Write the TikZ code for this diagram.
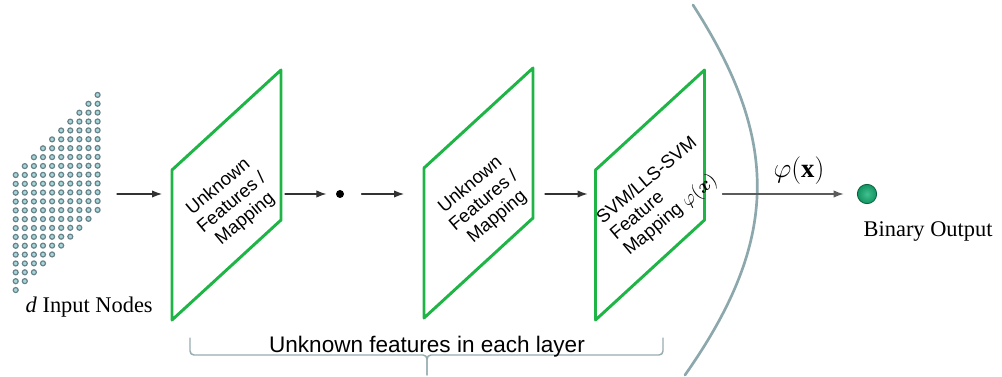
\documentclass[tikz,border=0pt]{standalone}
\usepackage{fontspec}
\setmainfont{Liberation Serif}
\setsansfont{Liberation Sans}
\usepackage{amsmath}
\usetikzlibrary{arrows.meta}
\definecolor{panelgreen}{RGB}{30,180,70}
\definecolor{curvegray}{RGB}{140,168,172}
\definecolor{bracegray}{RGB}{150,172,176}
\definecolor{dotring}{RGB}{105,130,135}
\definecolor{dotfill}{RGB}{165,215,220}
\definecolor{outgreen}{RGB}{20,175,115}
\definecolor{arrowgray}{RGB}{50,50,50}
\begin{document}
\begin{tikzpicture}[x=0.75pt,y=-0.75pt,line join=round,line cap=round,>={Latex[length=7.5pt,width=5.5pt]},
	panel/.style={draw=panelgreen,line width=2.2pt},
	paneltext/.style={font=\sffamily\fontsize{13.8}{15.6}\selectfont,rotate=40,inner sep=0pt},
	conn/.style={->,draw=arrowgray,line width=0.8pt},
	bigtext/.style={font=\fontsize{16.8}{20}\selectfont}]
	\useasboundingbox (0,0) rectangle (1002,377);
	% input nodes
	\foreach \i in {0,...,9}
		\foreach \j in {0,...,13}
			\filldraw[draw=dotring,fill=dotfill,line width=0.9pt] ({15.7+9.1*\i},{175-8.9*\i+8.85*\j}) circle (2.5);
	\coordinate (in) at (117,194);
	\node[bigtext,anchor=base west] (inlbl) at (21,313) {\textit{d} Input Nodes};
	% layers
	\foreach \n/\cx/\cy in {P1/226.5/195, P2/478.5/193, P3/650/195}{
		\coordinate (\n) at (\cx,\cy);
		\draw[panel] (\n) ++(-54.5,125) -- ++(0,-150) -- ++(109,-100) -- ++(0,150) -- cycle;
		\coordinate (\n-w) at (\cx-54.5,194);
		\coordinate (\n-e) at (\cx+54.5,194);
	}
	\node[paneltext,align=center] (t1) at (232,203) {Unknown\\Features /\\Mapping};
	\node[paneltext,align=center] (t2) at (484,201) {Unknown\\Features /\\Mapping};
	\node[paneltext,align=left] (t3) at (661,197) {SVM/LLS-SVM\\Feature\\Mapping $\varphi(\boldsymbol{x})$};
	\node[circle,fill=black,inner sep=0pt,minimum size=6pt] (dot) at (340,194) {};
	% output
	\draw[curvegray,line width=2pt] (693,5) .. controls (780,140) and (780,240) .. (685,375);
	\node[circle,inner sep=0pt,minimum size=14.5pt,draw=outgreen!55!black,line width=0.6pt,
		shade,inner color=outgreen!80!white,outer color=outgreen!85!black] (out) at (867,194) {};
	\node[font=\fontsize{20}{24}\selectfont] (phi) at (799,171) {$\varphi(\mathbf{x})$};
	\node[bigtext,anchor=base west] (outlbl) at (859,237) {Binary Output};
	% connectors
	\draw[conn,shorten >=7.5pt] (in) -- (P1-w);
	\draw[conn,shorten <=3pt,shorten >=7pt] (P1-e) -- (dot);
	\draw[conn,shorten <=13pt,shorten >=15pt] (dot) -- (P2-w);
	\draw[conn,shorten <=9pt,shorten >=6pt] (P2-e) -- (P3-w);
	\draw[conn,draw=arrowgray!80,shorten <=13.5pt,shorten >=10pt] (P3-e) -- (out);
	% brace
	\draw[bracegray,line width=1.1pt,rounded corners=3pt] (190,338) -- (190,355) -- (427,355) -- (427,375);
	\draw[bracegray,line width=1.1pt,rounded corners=3pt] (663,338) -- (663,355) -- (427,355) -- (427,375);
	\node[font=\sffamily\fontsize{16.9}{20}\selectfont,anchor=base] (brlbl) at (427,352) {Unknown features in each layer};
\end{tikzpicture}
\end{document}
